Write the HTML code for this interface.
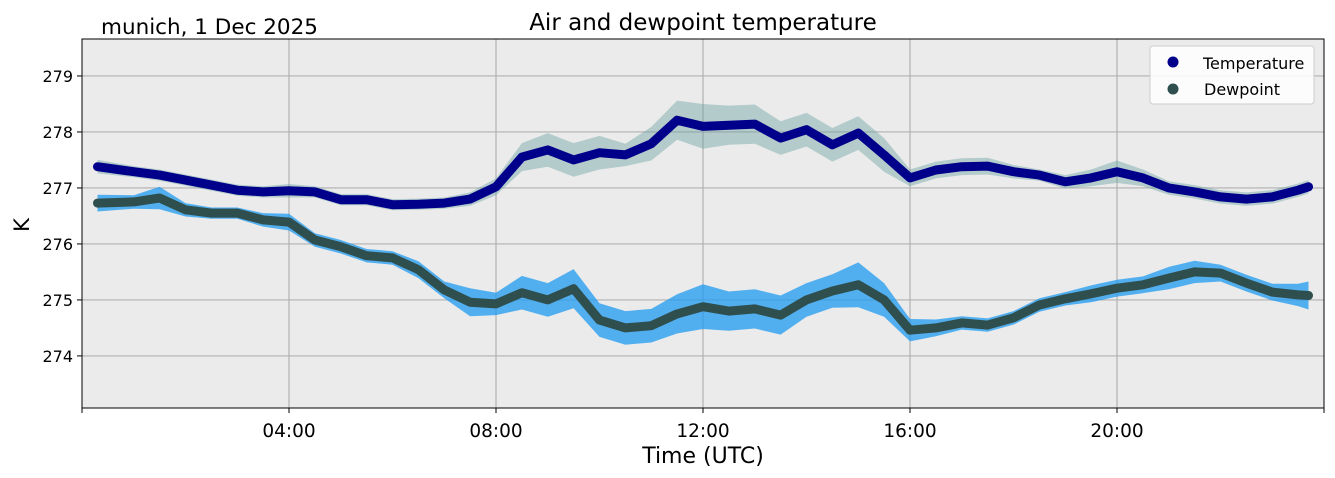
<!DOCTYPE html>
<html><head><meta charset="utf-8"><style>
html,body{margin:0;padding:0;background:#fff;}
svg{display:block;font-family:"DejaVu Sans","Liberation Sans",sans-serif;}
</style></head><body>
<svg id="chart" width="1335" height="478" viewBox="0 0 1335 478">
<rect x="82" y="39" width="1242" height="369" fill="#ebebeb"/>
<g id="grid"></g>
<g id="series"></g>
<rect x="82" y="39" width="1242" height="369" fill="none" stroke="#000" stroke-width="1"/>
<g id="axes"></g>
<text x="703" y="30" text-anchor="middle" font-size="23" fill="#000">Air and dewpoint temperature</text>
<text x="101" y="34" font-size="21.5" fill="#000">munich, 1 Dec 2025</text>
<text x="703" y="463" text-anchor="middle" font-size="22" fill="#000">Time (UTC)</text>
<text x="29" y="225" text-anchor="middle" font-size="21" fill="#000" transform="rotate(-90 29 225)">K</text>
<g>
<rect x="1150" y="46" width="164" height="58" rx="3" fill="#fff" fill-opacity="0.85" stroke="#ccc"/>
<circle cx="1173" cy="62" r="5.5" fill="#00008b"/>
<text x="1203" y="69" font-size="16" fill="#000">Temperature</text>
<circle cx="1173" cy="89" r="5.5" fill="#2f4f4f"/>
<text x="1204" y="95" font-size="16" fill="#000">Dewpoint</text>
</g>
</svg>
<script>
const hours = [0.3,1,1.5,2,2.5,3,3.5,4,4.5,5,5.5,6,6.5,7,7.5,8,8.5,9,9.5,10,10.5,11,11.5,12,12.5,13,13.5,14,14.5,15,15.5,16,16.5,17,17.5,18,18.5,19,19.5,20,20.5,21,21.5,22,22.5,23,23.5,23.7];
const tempSmooth = [277.38,277.29,277.23,277.14,277.05,276.96,276.93,276.95,276.93,276.79,276.79,276.70,276.71,276.73,276.80,277.02,277.55,277.68,277.50,277.63,277.59,277.79,278.21,278.10,278.12,278.14,277.89,278.04,277.77,277.98,277.59,277.18,277.32,277.38,277.39,277.29,277.23,277.11,277.18,277.29,277.18,277.00,276.93,276.84,276.80,276.84,276.96,277.02];
const dewSmooth = [276.73,276.75,276.82,276.61,276.55,276.55,276.43,276.39,276.07,275.95,275.79,275.75,275.54,275.18,274.96,274.93,275.13,275.00,275.20,274.64,274.50,274.54,274.75,274.88,274.80,274.84,274.73,275.00,275.16,275.27,275.00,274.46,274.50,274.59,274.55,274.68,274.91,275.02,275.11,275.21,275.27,275.39,275.50,275.48,275.30,275.14,275.09,275.08];
const tempRawSpread = [0.12,0.1,0.1,0.1,0.1,0.1,0.1,0.12,0.1,0.1,0.1,0.1,0.1,0.1,0.12,0.15,0.25,0.3,0.3,0.3,0.2,0.3,0.35,0.4,0.35,0.35,0.3,0.3,0.3,0.3,0.3,0.15,0.15,0.15,0.15,0.12,0.1,0.12,0.15,0.2,0.15,0.12,0.12,0.12,0.12,0.12,0.12,0.12];
const dewRawSpread = [0.15,0.12,0.2,0.12,0.1,0.1,0.12,0.15,0.12,0.12,0.12,0.12,0.15,0.15,0.25,0.2,0.3,0.3,0.35,0.3,0.3,0.3,0.35,0.4,0.35,0.35,0.35,0.3,0.3,0.4,0.3,0.2,0.15,0.12,0.12,0.12,0.12,0.12,0.15,0.15,0.15,0.2,0.2,0.15,0.15,0.15,0.2,0.25];
const yTicks = [274,275,276,277,278,279];
const xTicks = [4,8,12,16,20];
const xTickLabels = ["04:00","08:00","12:00","16:00","20:00"];

const NS = "http://www.w3.org/2000/svg";
const X0 = 82, X1 = 1324, Y0 = 408, Y1 = 39;
const H0 = 0, H1 = 24, K0 = 273.07, K1 = 279.66;
function xs(h){ return X0 + (h - H0) / (H1 - H0) * (X1 - X0); }
function ys(k){ return Y0 - (k - K0) / (K1 - K0) * (Y0 - Y1); }
function mk(tag, attrs, parent){ const e = document.createElementNS(NS, tag); for (const a in attrs) e.setAttribute(a, attrs[a]); parent.appendChild(e); return e; }

const grid = document.getElementById('grid');
const axes = document.getElementById('axes');
const series = document.getElementById('series');

yTicks.forEach(function(v){
  const g = mk('line', {x1:X0, x2:X1, y1:ys(v), y2:ys(v), stroke:'#b0b0b0', 'stroke-width':1.2}, grid);
  
  
  const t = mk('line', {x1:X0-5, x2:X0, y1:ys(v), y2:ys(v), stroke:'#000'}, axes);
  
  
  const l = mk('text', {x:X0-9, y:ys(v)+6, 'text-anchor':'end', 'font-size':16, fill:'#000'}, axes);
  l.textContent = String(v);
  
  
});
xTicks.forEach(function(h, i){
  const g = mk('line', {x1:xs(h), x2:xs(h), y1:Y1, y2:Y0, stroke:'#b0b0b0', 'stroke-width':1.2}, grid);
  
  
  const t = mk('line', {x1:xs(h), x2:xs(h), y1:Y0, y2:Y0+5, stroke:'#000'}, axes);
  
  
  const l = mk('text', {x:xs(h), y:Y0+29, 'text-anchor':'middle', 'font-size':18.5, fill:'#000'}, axes);
  l.textContent = xTickLabels[i];
  
  
});
[0, 24].forEach(function(h){
  const t = mk('line', {x1:xs(h), x2:xs(h), y1:Y0, y2:Y0+5, stroke:'#000'}, axes);
  
  
});

function band(vals, spread){
  const up = hours.map(function(h,i){ return xs(h).toFixed(1)+','+ys(vals[i]+spread[i]).toFixed(1); });
  const dn = hours.map(function(h,i){ return xs(h).toFixed(1)+','+ys(vals[i]-spread[i]).toFixed(1); }).reverse();
  return up.concat(dn).join(' ');
}
function line(vals){
  return hours.map(function(h,i){ return xs(h).toFixed(1)+','+ys(vals[i]).toFixed(1); }).join(' ');
}

const dr = mk('polygon', {points:band(dewSmooth, dewRawSpread), fill:'#1f9bf0', 'fill-opacity':0.75}, series);


const tr = mk('polygon', {points:band(tempSmooth, tempRawSpread), fill:'#6fa3a3', 'fill-opacity':0.45}, series);


const dl = mk('polyline', {points:line(dewSmooth), fill:'none', stroke:'#2f4f4f', 'stroke-width':9, 'stroke-linecap':'round', 'stroke-linejoin':'round'}, series);


const tl = mk('polyline', {points:line(tempSmooth), fill:'none', stroke:'#00008b', 'stroke-width':9, 'stroke-linecap':'round', 'stroke-linejoin':'round'}, series);


</script>
</body></html>
